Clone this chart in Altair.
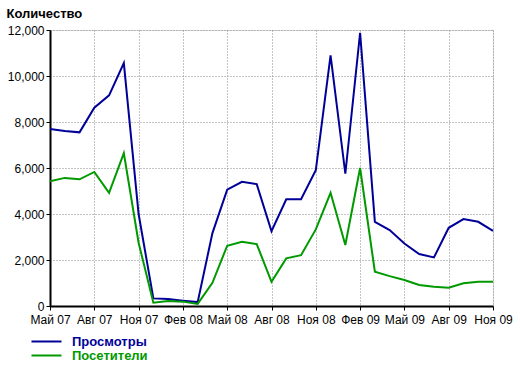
import altair as alt
import pandas as pd

months = ["Май 07", "Июн 07", "Июл 07", "Авг 07", "Сен 07", "Окт 07", "Ноя 07", "Дек 07",
          "Янв 08", "Фев 08", "Мар 08", "Апр 08", "Май 08", "Июн 08", "Июл 08", "Авг 08",
          "Сен 08", "Окт 08", "Ноя 08", "Дек 08", "Янв 09", "Фев 09", "Мар 09", "Апр 09",
          "Май 09", "Июн 09", "Июл 09", "Авг 09", "Сен 09", "Окт 09", "Ноя 09"]

views = [7700, 7610, 7550, 8620, 9160, 10560, 4000, 330, 300, 230, 170, 3170, 5060, 5400, 5300, 3250,
         4640, 4640, 5900, 10900, 5750, 11880, 3660, 3300, 2720, 2260, 2110, 3400, 3780, 3660, 3270]

visitors = [5425, 5570, 5510, 5830, 4920, 6650, 2750, 145, 220, 190, 90, 1010, 2620, 2790, 2690, 1050,
            2070, 2210, 3330, 4920, 2650, 6000, 1490, 1300, 1130, 910, 840, 795, 985, 1055, 1055]

series_names = ["Просмотры", "Посетители"]
series_colors = ["#000099", "#009900"]
tick_positions = list(range(0, 31, 3))
y_ticks = [0, 2000, 4000, 6000, 8000, 10000, 12000]

rows = []
for i, m in enumerate(months):
    rows.append({"idx": i, "month": m, "value": views[i], "series": series_names[0]})
    rows.append({"idx": i, "month": m, "value": visitors[i], "series": series_names[1]})
df = pd.DataFrame(rows)

label_arr = "[" + ",".join("'" + m + "'" for m in months) + "]"
label_expr = label_arr + "[datum.value]"

font = "Liberation Sans"
grid_color = "#8a8a8a"

chart = alt.Chart(df).mark_line(strokeWidth=2).encode(
    x=alt.X("idx:Q",
            scale=alt.Scale(domain=[0, 30], nice=False, zero=False),
            axis=alt.Axis(values=tick_positions, labelExpr=label_expr, title=None,
                          grid=True, gridDash=[1, 2], gridColor=grid_color, gridWidth=1,
                          domainColor="#000000", domainWidth=2,
                          tickColor="#000000", tickSize=4, tickWidth=1,
                          labelPadding=4, labelFont=font, labelFontSize=12,
                          labelColor="#000000", labelFlush=False, labelOverlap=False)),
    y=alt.Y("value:Q",
            scale=alt.Scale(domain=[0, 12000], nice=False),
            axis=alt.Axis(values=y_ticks, format=",.0f", title="Количество",
                          titleAngle=0, titleAlign="left", titleBaseline="alphabetic",
                          titleX=-44, titleY=-13, titleFont=font, titleFontSize=13,
                          titleFontWeight="bold", titleColor="#000000",
                          grid=True, gridDash=[1, 2], gridColor=grid_color, gridWidth=1,
                          domainColor="#000000", domainWidth=2,
                          tickColor="#000000", tickSize=4, tickWidth=1,
                          labelPadding=2, labelFont=font, labelFontSize=12,
                          labelColor="#000000")),
    color=alt.Color("series:N",
                    scale=alt.Scale(domain=series_names, range=series_colors),
                    sort=series_names,
                    legend=alt.Legend(title=None, orient="none", legendX=-10, legendY=305,
                                      symbolType="M-3,0L3,0", symbolSize=100,
                                      symbolStrokeWidth=2, labelOffset=19,
                                      labelFont=font, labelFontSize=13, labelFontWeight="bold",
                                      labelColor=alt.ExprRef("datum.label == 'Просмотры' ? '#000099' : '#009900'"),
                                      rowPadding=-1, direction="vertical")),
    order=alt.Order("series:N", sort="ascending"),
).properties(
    width=443, height=276,
    autosize=alt.AutoSizeParams(type="none"),
    padding={"left": 50, "top": 30, "right": 27, "bottom": 60},
).configure_view(
    fill="#F5F5F5", stroke=None
).configure(background="#FFFFFF")

chart.save("out.html", embed_options={"renderer": "svg", "actions": False})
